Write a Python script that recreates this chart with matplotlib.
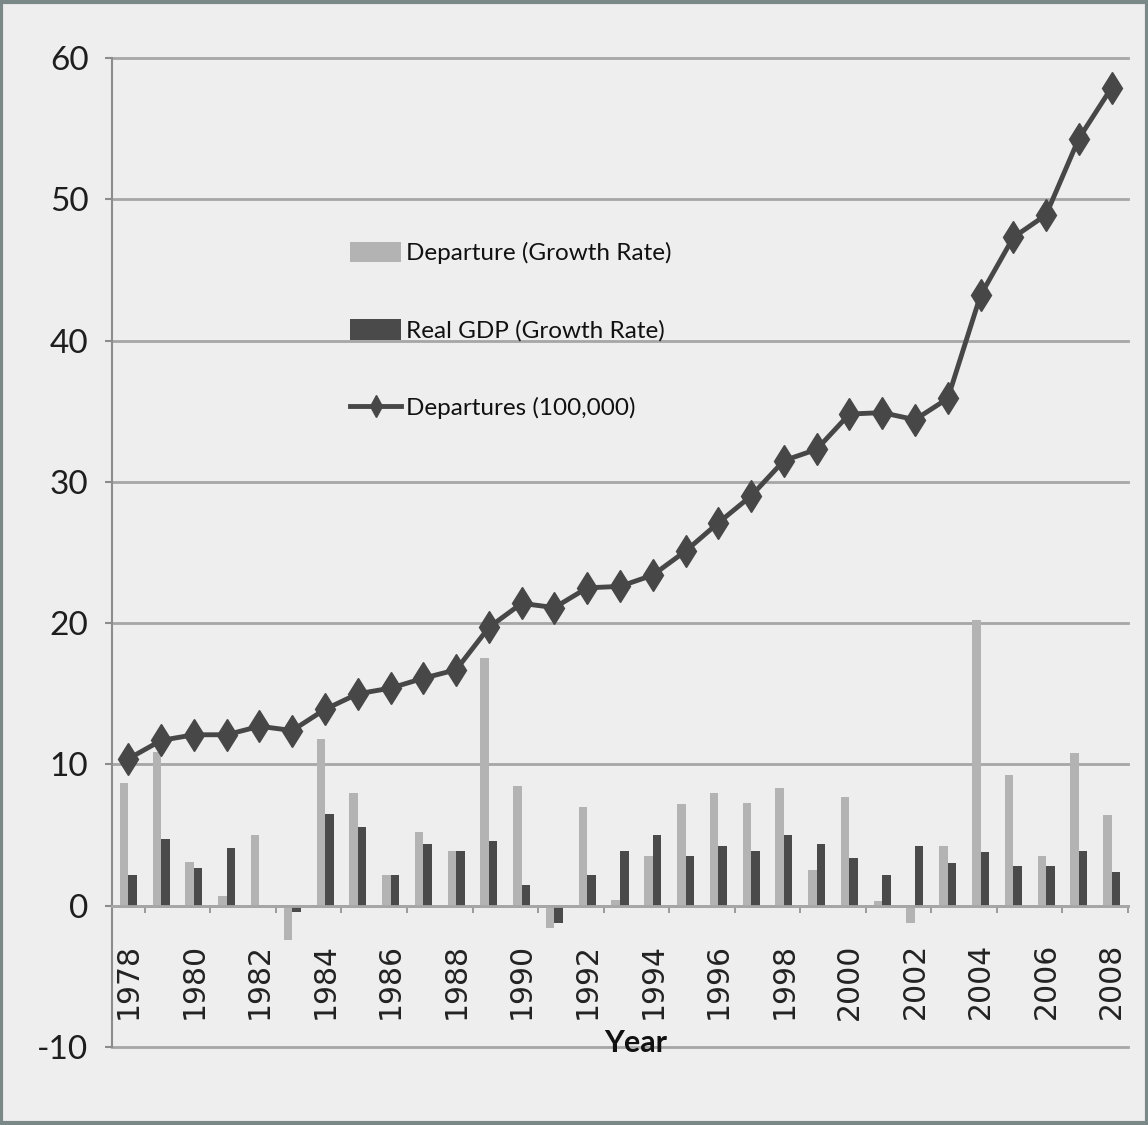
import matplotlib
matplotlib.use("Agg")
import matplotlib.pyplot as plt
from matplotlib.patches import Rectangle
import numpy as np

plt.rcParams["axes.unicode_minus"] = False

years = list(range(1978, 2009))
departure_growth = [8.7, 10.9, 3.1, 0.7, 5.0, -2.4, 11.8, 8.0, 2.2, 5.2, 3.9, 17.5, 8.5, -1.6, 7.0,
                    0.4, 3.5, 7.2, 8.0, 7.3, 8.3, 2.5, 7.7, 0.35, -1.2, 4.2, 20.2, 9.25, 3.5, 10.8, 6.4]
gdp_growth = [2.2, 4.7, 2.7, 4.1, 0.0, -0.45, 6.5, 5.6, 2.2, 4.4, 3.9, 4.55, 1.5, -1.2, 2.2,
              3.9, 5.0, 3.5, 4.2, 3.9, 5.0, 4.4, 3.4, 2.2, 4.2, 3.0, 3.8, 2.8, 2.8, 3.9, 2.4]
departures = [10.4, 11.7, 12.1, 12.1, 12.7, 12.4, 13.9, 15.0, 15.4, 16.1, 16.7, 19.7, 21.4, 21.1, 22.5,
              22.6, 23.4, 25.1, 27.1, 29.0, 31.5, 32.3, 34.8, 34.9, 34.4, 35.9, 43.2, 47.3, 48.9, 54.3, 57.9]
labels = ["Departure (Growth Rate)", "Real GDP (Growth Rate)", "Departures (100,000)"]

BG = "#eeeeee"
LIGHT = "#b3b3b3"
DARK = "#4a4a4a"
LINE = "#474747"
GRID = "#a6a6a6"
NARROW = ["Lato", "DejaVu Sans"]

fig = plt.figure(figsize=(11.48, 11.25), dpi=100, facecolor=BG)
ax = fig.add_axes([112/1148, 1 - 1047/1125, (1128-112)/1148, (1047-58)/1125])
ax.set_facecolor(BG)

x = np.arange(len(years))
w = 0.26
b1 = ax.bar(x - w/2, departure_growth, width=w, color=LIGHT, zorder=2, label=labels[0])
b2 = ax.bar(x + w/2, gdp_growth, width=w, color=DARK, zorder=2, label=labels[1])
ln, = ax.plot(x, departures, color=LINE, lw=3.5, marker='d', markersize=16.5, zorder=4, label=labels[2])

ax.set_xlim(-0.5, len(years) - 0.5)
ax.set_ylim(-10, 60)
ax.set_yticks(range(-10, 61, 10))
ax.yaxis.grid(True, color=GRID, lw=2, zorder=0)
for gl in ax.get_ygridlines():
    gl.set_clip_on(False)
ax.set_axisbelow(True)

for s in ["top", "right"]:
    ax.spines[s].set_visible(False)
ax.spines["left"].set_color("#8c8c8c")
ax.spines["left"].set_linewidth(1.5)
ax.spines["bottom"].set_position(("data", 0))
ax.spines["bottom"].set_color("#a6a6a6")
ax.spines["bottom"].set_linewidth(2)
ax.spines["bottom"].set_zorder(3)

ax.set_xticks(x[::2])
ax.set_xticklabels([str(y) for y in years[::2]], rotation=90, fontsize=21.5, color="#222222",
                   family="DejaVu Sans")
ax.tick_params(axis="x", which="major", length=0, pad=27)
ax.set_xticks(np.arange(0.5, len(years), 2), minor=True)
ax.tick_params(axis="x", which="minor", length=5, width=1.2, color="#8c8c8c", direction="out")

ax.tick_params(axis="y", length=5, width=1.5, color="#8c8c8c", pad=12, labelsize=24, labelcolor="#1e1e1e")
for t in ax.get_yticklabels():
    t.set_family(NARROW)

fig.text(636/1148, 1 - 1043/1125, "Year", fontsize=22, fontweight="bold", family=NARROW,
         color="#111111", ha="center", va="center", zorder=6)

leg = fig.legend([b1, b2, ln], labels, loc="upper left", bbox_to_anchor=(350/1148, 1 - 242/1125),
                 frameon=False, prop={"family": NARROW, "size": 17.5}, handlelength=2.1, handleheight=0.9,
                 handletextpad=0.2, labelspacing=2.26, borderpad=0, borderaxespad=0, markerscale=0.65)
for t in leg.get_texts():
    t.set_color("#111111")

fig.patches.append(Rectangle((0.001, 0.002), 0.998, 0.996, transform=fig.transFigure,
                             fill=False, edgecolor="#7a8888", lw=3, zorder=10))

fig.savefig("out.png", dpi=100, facecolor=BG)
